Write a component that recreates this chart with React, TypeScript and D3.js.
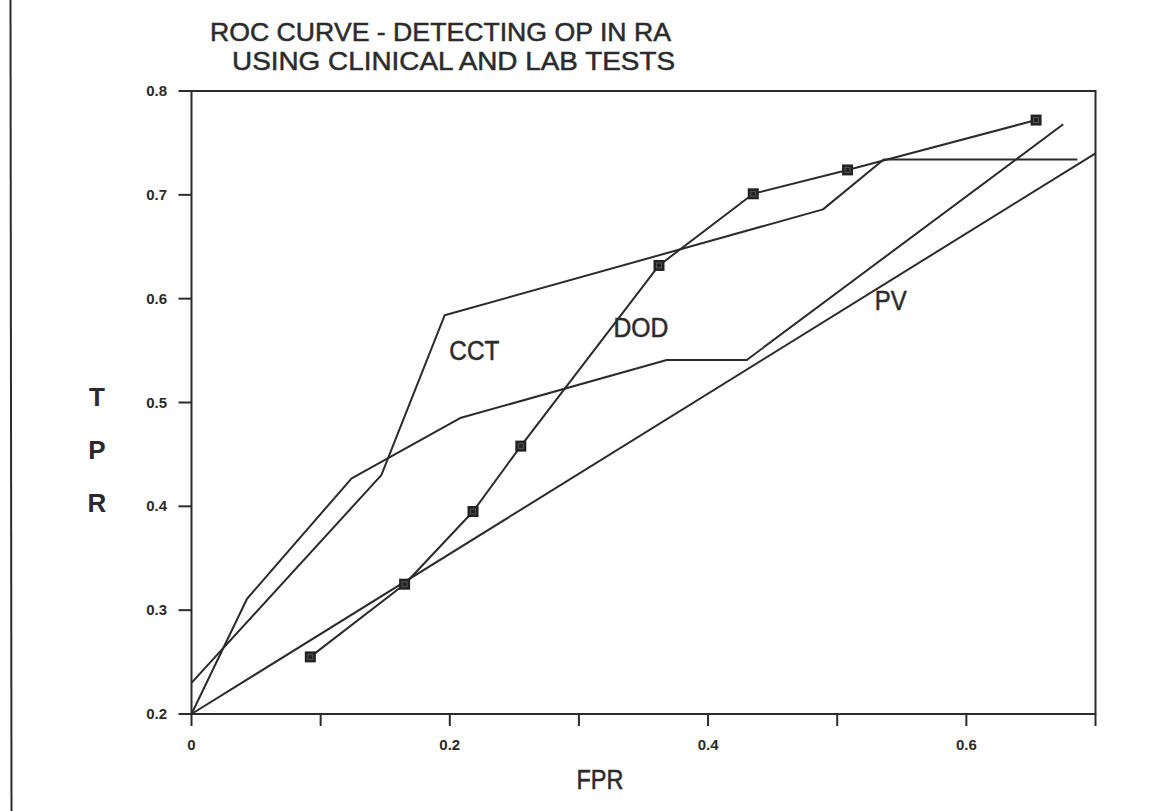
import React from "react";
import * as d3 from "d3";

const W = 1166;
const H = 811;

const titleLines = ["ROC CURVE - DETECTING OP IN RA", "USING CLINICAL AND LAB TESTS"];
const xTicks = [0, 0.1, 0.2, 0.3, 0.4, 0.5, 0.6, 0.7];
const xTickLabels = ["0", "", "0.2", "", "0.4", "", "0.6", ""];
const yTicks = [0.2, 0.3, 0.4, 0.5, 0.6, 0.7, 0.8];
const yTickLabels = ["0.2", "0.3", "0.4", "0.5", "0.6", "0.7", "0.8"];

const dodFPR = [0.092, 0.165, 0.218, 0.255, 0.362, 0.435, 0.508, 0.654];
const dodTPR = [0.255, 0.325, 0.395, 0.458, 0.632, 0.701, 0.724, 0.772];

const cctFPR = [0, 0.147, 0.196, 0.489, 0.536, 0.686];
const cctTPR = [0.23, 0.43, 0.584, 0.686, 0.734, 0.734];

const s4FPR = [0, 0.043, 0.124, 0.208, 0.368, 0.43, 0.675];
const s4TPR = [0.2, 0.311, 0.427, 0.485, 0.541, 0.541, 0.768];

const pvFPR = [0, 0.7];
const pvTPR = [0.2, 0.74];

const labels = [
  { text: "CCT", fpr: 0.219, tpr: 0.541, w: 50 },
  { text: "DOD", fpr: 0.348, tpr: 0.563, w: 55 },
  { text: "PV", fpr: 0.5415, tpr: 0.589, w: 32 },
];

const x = d3.scaleLinear().domain([0, 0.7]).range([191.5, 1095.5]);
const y = d3.scaleLinear().domain([0.2, 0.8]).range([714, 91]);

const line = d3
  .line<[number, number]>()
  .x((d) => x(d[0]))
  .y((d) => y(d[1]));

const zip = (a: number[], b: number[]) => a.map((v, i) => [v, b[i]] as [number, number]);

const INK = "#2b2b2b";

export default function App() {
  const series = [zip(cctFPR, cctTPR), zip(s4FPR, s4TPR), zip(pvFPR, pvTPR), zip(dodFPR, dodTPR)];
  const heavy = { stroke: INK, strokeWidth: 0.5 };
  return (
    <svg
      width={W}
      height={H}
      style={{ position: "absolute", left: 0, top: 0, background: "#fff" }}
      fontFamily="Liberation Sans, Arial, sans-serif"
    >
      <rect x={0} y={0} width={W} height={H} fill="#fff" />
      <line x1={10.5} y1={0} x2={11.5} y2={H} stroke={INK} strokeWidth={2} />
      <text x={210} y={41} fontSize={26.5} textLength={461} lengthAdjust="spacingAndGlyphs" fill={INK} {...heavy}>
        {titleLines[0]}
      </text>
      <text x={232} y={70} fontSize={26.5} textLength={443} lengthAdjust="spacingAndGlyphs" fill={INK} {...heavy}>
        {titleLines[1]}
      </text>
      {/* frame */}
      <rect x={x(0)} y={y(0.8)} width={x(0.7) - x(0)} height={y(0.2) - y(0.8)} fill="none" stroke={INK} strokeWidth={2} />
      {yTicks.map((t, i) => (
        <g key={"y" + i}>
          <line x1={x(0) - 13} x2={x(0)} y1={y(t)} y2={y(t)} stroke={INK} strokeWidth={2} />
          <text x={167} y={y(t) + 5} fontSize={15} fontWeight="bold" textAnchor="end" fill={INK}>
            {yTickLabels[i]}
          </text>
        </g>
      ))}
      {xTicks.map((t, i) => (
        <g key={"x" + i}>
          <line x1={x(t)} x2={x(t)} y1={y(0.2)} y2={y(0.2) + 12} stroke={INK} strokeWidth={2} />
          {xTickLabels[i] && (
            <text x={x(t)} y={750} fontSize={15} fontWeight="bold" textAnchor="middle" fill={INK}>
              {xTickLabels[i]}
            </text>
          )}
        </g>
      ))}
      {["T", "P", "R"].map((c, i) => (
        <text key={c} x={97} y={406 + i * 53} fontSize={26} fontWeight="bold" textAnchor="middle" fill={INK}>
          {c}
        </text>
      ))}
      <text x={600} y={789} fontSize={27} textAnchor="middle" textLength={47} lengthAdjust="spacingAndGlyphs" fill={INK} {...heavy}>
        FPR
      </text>
      {series.map((s, i) => (
        <path key={"s" + i} d={line(s) || ""} fill="none" stroke={INK} strokeWidth={2} strokeLinejoin="round" />
      ))}
      {zip(dodFPR, dodTPR).map((d, i) => (
        <g key={"m" + i}>
          <rect x={x(d[0]) - 5.5} y={y(d[1]) - 5.5} width={11} height={11} fill="#222" />
          <rect x={x(d[0]) - 2.5} y={y(d[1]) - 2.5} width={5} height={5} fill="none" stroke="#555" strokeWidth={1} />
        </g>
      ))}
      {labels.map((l) => (
        <text
          key={l.text}
          x={x(l.fpr)}
          y={y(l.tpr)}
          fontSize={27}
          textAnchor="middle"
          textLength={l.w}
          lengthAdjust="spacingAndGlyphs"
          fill={INK}
          {...heavy}
        >
          {l.text}
        </text>
      ))}
    </svg>
  );
}
